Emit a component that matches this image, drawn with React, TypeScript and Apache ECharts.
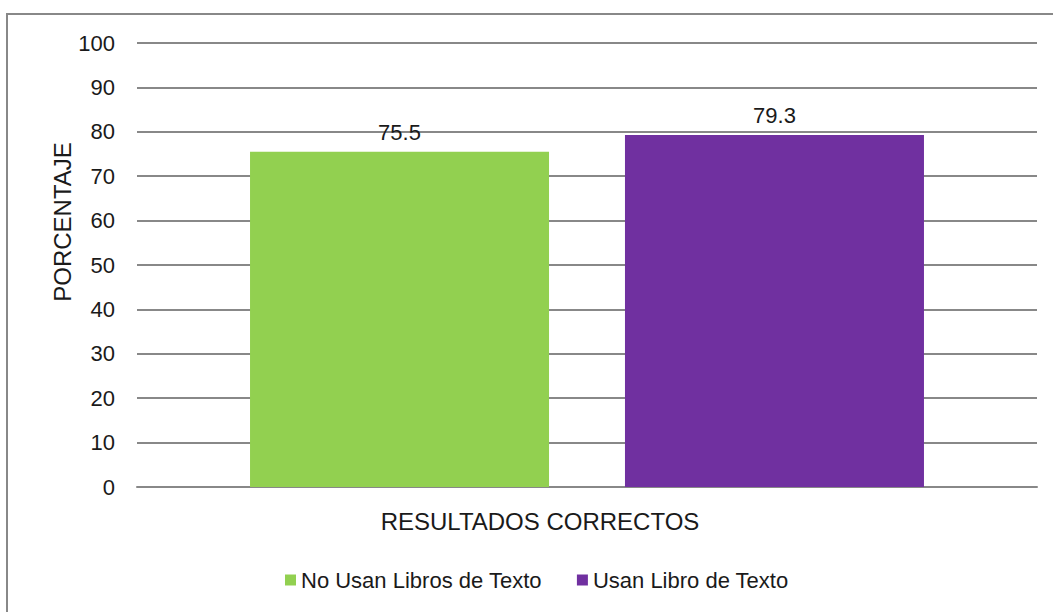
import React, { useEffect, useRef } from "react";
import * as echarts from "echarts";

const categories = ["RESULTADOS CORRECTOS"];
const seriesNames = ["No Usan Libros de Texto", "Usan Libro de Texto"];
const noUsan = [75.5];
const usan = [79.3];
const yTicks = { min: 0, max: 100, interval: 10 };
const colors = ["#92D050", "#7030A0"];

const FONT = "'Liberation Sans Narrow', 'Arial Narrow', 'Liberation Sans', Arial, sans-serif";

export default function App() {
  const ref = useRef<HTMLDivElement>(null);
  useEffect(() => {
    document.body.style.margin = "0";
    const chart = echarts.init(ref.current!, null, { renderer: "svg" });
    const labelStyle = {
      show: true,
      position: "top",
      distance: 8,
      fontFamily: FONT,
      fontSize: 22,
      color: "#1a1a1a",
    };
    chart.setOption({
      animation: false,
      backgroundColor: "#ffffff",
      textStyle: { fontFamily: FONT },
      grid: { left: 137, right: 16, top: 43, bottom: 125 },
      legend: {
        top: 564,
        left: 280,
        itemWidth: 11,
        itemHeight: 11,
        itemGap: 35,
        icon: "rect",
        textStyle: { fontFamily: FONT, fontSize: 22, color: "#1a1a1a" },
        data: seriesNames,
      },
      xAxis: {
        type: "category",
        data: categories,
        axisLine: { lineStyle: { color: "#888888", width: 2 } },
        axisTick: { show: false },
        axisLabel: {
          fontFamily: FONT,
          fontSize: 24,
          color: "#1a1a1a",
          margin: 22,
          padding: [0, 94, 0, 0],
        },
      },
      yAxis: {
        type: "value",
        min: yTicks.min,
        max: yTicks.max,
        interval: yTicks.interval,
        axisLine: { show: false },
        axisTick: { show: false },
        splitLine: { lineStyle: { color: "#888888", width: 2 } },
        axisLabel: { fontFamily: FONT, fontSize: 22, color: "#1a1a1a", margin: 22 },
      },
      graphic: [
        {
          type: "rect",
          shape: { x: 7, y: 14, width: 1100, height: 700 },
          style: { fill: "none", stroke: "#888888", lineWidth: 2 },
          silent: true,
        },
        {
          type: "text",
          x: 62,
          y: 222,
          rotation: Math.PI / 2,
          style: {
            text: "PORCENTAJE",
            font: `24px ${FONT}`,
            fill: "#1a1a1a",
            align: "center",
            verticalAlign: "middle",
          },
        },
      ],
      series: [
        {
          name: seriesNames[0],
          type: "bar",
          data: noUsan,
          barWidth: 299,
          barGap: "25.4%",
          itemStyle: { color: colors[0] },
          label: labelStyle,
        },
        {
          name: seriesNames[1],
          type: "bar",
          data: usan,
          barWidth: 299,
          barGap: "25.4%",
          itemStyle: { color: colors[1] },
          label: labelStyle,
        },
      ],
    });
    return () => chart.dispose();
  }, []);
  return <div ref={ref} style={{ width: 1053, height: 612 }} />;
}
